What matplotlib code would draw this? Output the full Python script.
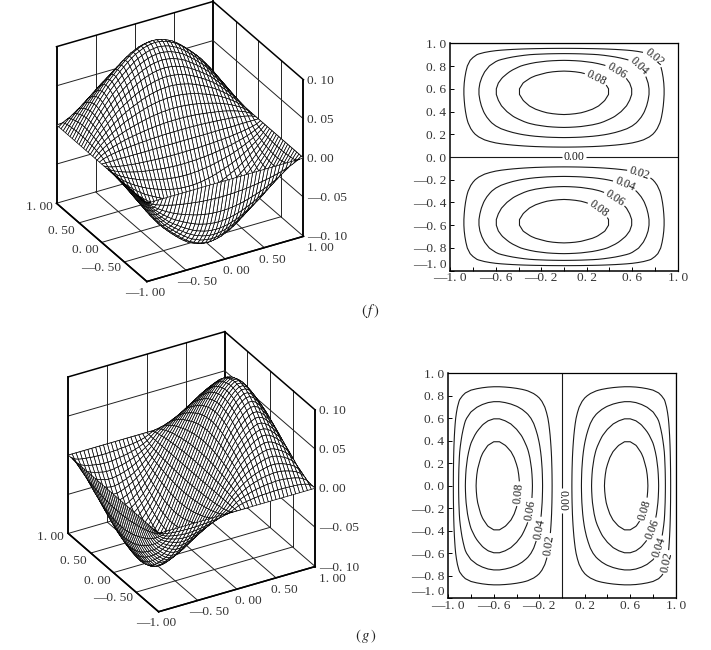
import matplotlib

matplotlib.use("Agg")

import matplotlib.pyplot as plt
import numpy as np
from mpl_toolkits.mplot3d import proj3d

plt.rcParams["font.family"] = ["Liberation Serif", "DejaVu Serif"]
plt.rcParams["mathtext.fontset"] = "stix"

FIG_W, FIG_H = 711, 650

# profiles, x = 0, 0.05, ... 1.00
even_half = [1.00, 0.995, 0.985, 0.97, 0.945, 0.92, 0.885, 0.845, 0.80, 0.755, 0.705,
             0.655, 0.60, 0.535, 0.47, 0.40, 0.325, 0.25, 0.17, 0.085, 0.00]
odd_half = [0.00, 0.115, 0.23, 0.35, 0.47, 0.58, 0.68, 0.765, 0.84, 0.905, 0.955,
            0.99, 0.99, 0.955, 0.89, 0.81, 0.72, 0.60, 0.44, 0.225, 0.00]
peak = 0.10
corner_fill = 0.3  # how square the contours get towards the corners

ticks_3d = [-1.0, -0.5, 0.0, 0.5, 1.0]
ticks_3d_labels = ["—1. 00", "—0. 50", "0. 00", "0. 50", "1. 00"]
ticks_z = [-0.10, -0.05, 0.00, 0.05, 0.10]
ticks_z_labels = ["—0. 10", "—0. 05", "0. 00", "0. 05", "0. 10"]

levels = [-0.08, -0.06, -0.04, -0.02, 0.02, 0.04, 0.06, 0.08]
x_ticks = [-1.0, -0.8, -0.6, -0.4, -0.2, 0.0, 0.2, 0.4, 0.6, 0.8, 1.0]
x_tick_labels = ["—1. 0", "", "—0. 6", "", "—0. 2", "", "0. 2", "", "0. 6", "", "1. 0"]
y_ticks = [-1.0, -0.8, -0.6, -0.4, -0.2, 0.0, 0.2, 0.4, 0.6, 0.8, 1.0]
y_tick_labels = ["—1. 0", "—0. 8", "—0. 6", "—0. 4", "—0. 2", "0. 0", "0. 2", "0. 4", "0. 6", "0. 8", "1. 0"]

# where the contour labels sit
labels_f = [(0.78, 0.86), (0.645, 0.786), (0.463, 0.76), (0.287, 0.70),
            (0.654, -0.164), (0.537, -0.237), (0.457, -0.349), (0.31, -0.45)]
zero_label_f = [(0.088, 0.0)]
labels_g = [(-0.387, -0.07), (-0.28, -0.217), (-0.19, -0.386), (-0.11, -0.53),
            (0.74, -0.217), (0.80, -0.39), (0.86, -0.55), (0.92, -0.68)]
zero_label_g = [(0.0, -0.13)]

grid = np.linspace(-1, 1, 41)
even = np.array(even_half[:0:-1] + even_half)
odd = np.array([-v for v in odd_half[:0:-1]] + odd_half)


def blend(row, col):
    # product-like mix of the two profiles, keeps both profiles along the ridges
    with np.errstate(divide="ignore"):
        a = np.abs(row) ** -corner_fill
        b = np.abs(col) ** -corner_fill
    mixed = np.add.outer(a, b) - 1
    return peak * np.sign(np.outer(row, col)) * mixed ** (-1 / corner_fill)


z_f = blend(odd, even)
z_g = blend(even, odd)
sign_f = np.outer(odd, np.ones_like(even))
sign_g = np.outer(np.ones_like(even), odd)

fig = plt.figure(figsize=(FIG_W / 100, FIG_H / 100), dpi=100)


def add_surface(z, cx, cy):
    side = 304
    frac = 0.095 / 0.185
    left = cx - frac * side
    bottom = FIG_H - cy - frac * side
    ax = fig.add_axes([left / FIG_W, bottom / FIG_H, side / FIG_W, side / FIG_H],
                      projection="3d", computed_zorder=False)
    ax.set_proj_type("ortho")
    ax.view_init(elev=30, azim=-120)
    ax.set_box_aspect((1, 1, 1))
    ax.set_xlim(-1, 1)
    ax.set_ylim(-1, 1)
    ax.set_zlim(-0.1, 0.1)
    ax.set_axis_off()
    ax.patch.set_alpha(0)

    wall = dict(color="#222222", lw=0.7, zorder=1)
    edge = dict(color="black", lw=1.1, zorder=1)
    for t in ticks_3d:
        ax.plot([t, t], [1, 1], [-0.1, 0.1], **(edge if abs(t) == 1 else wall))
        ax.plot([1, 1], [t, t], [-0.1, 0.1], **(edge if abs(t) == 1 else wall))
        ax.plot([t, t], [-1, 1], [-0.1, -0.1], **(edge if t == -1 else wall))
        ax.plot([-1, 1], [t, t], [-0.1, -0.1], **(edge if t == -1 else wall))
    for v in ticks_z[1:4]:
        ax.plot([-1, 1], [1, 1], [v, v], **wall)
        ax.plot([1, 1], [-1, 1], [v, v], **wall)
    ax.plot([-1, 1], [1, 1], [0.1, 0.1], **edge)
    ax.plot([1, 1], [-1, 1], [0.1, 0.1], **edge)
    ax.plot([-1, -1], [-1, 1], [-0.1, -0.1], **edge)
    ax.plot([-1, 1], [-1, -1], [-0.1, -0.1], **edge)
    ax.plot([1, 1], [-1, -1], [-0.1, 0.1], **edge)
    ax.plot([-1, -1], [1, 1], [-0.1, 0.1], **edge)

    xx, yy = np.meshgrid(grid, grid)
    ax.plot_surface(xx, yy, z, rstride=1, cstride=1, color="white", edgecolor="black",
                    linewidth=0.5, shade=False, zorder=2)

    proj = ax.get_proj()

    def put(x, y, zv, text, dx, dy, ha):
        px, py, _ = proj3d.proj_transform(x, y, zv, proj)
        ax.annotate(text, (px, py), xytext=(dx, dy), textcoords="offset pixels",
                    ha=ha, va="center", fontsize=9.6, color="#333333", annotation_clip=False)

    y_offsets = [(18, -11, "right"), (-3, -6, "right"), (-3, -8, "right"), (-4, -8, "right"), (-4, -4, "right")]
    for t, s, (dx, dy, ha) in zip(ticks_3d, ticks_3d_labels, y_offsets):
        put(-1, t, -0.1, s, dx, dy, ha)
    x_offsets = [None, (11, -12, "center"), (11, -12, "center"), (8, -12, "center"), (17, -12, "center")]
    for t, s, off in zip(ticks_3d, ticks_3d_labels, x_offsets):
        if off:
            put(t, -1, -0.1, s, off[0], off[1], off[2])
    for v, s in zip(ticks_z, ticks_z_labels):
        put(1, -1, v, s, 4, -1, "left")
    return ax


def add_contour(z, sign, left, right, top, bottom, manual, zero_manual):
    ax = fig.add_axes([left / FIG_W, (FIG_H - bottom) / FIG_H, (right - left) / FIG_W, (bottom - top) / FIG_H])
    cs = ax.contour(grid, grid, z, levels=levels, colors="#1a1a1a", linewidths=0.8,
                    negative_linestyles="solid")
    ax.clabel(cs, fmt=lambda v: f"{abs(v):.2f}", manual=manual, fontsize=8.5, inline=True, inline_spacing=2)
    zero = ax.contour(grid, grid, sign, levels=[0.0], colors="#1a1a1a", linewidths=0.8)
    ax.clabel(zero, fmt=lambda v: f"{abs(v):.2f}", manual=zero_manual, fontsize=8.5, inline=True, inline_spacing=2)
    ax.set_xlim(-1, 1)
    ax.set_ylim(-1, 1)
    ax.set_xticks(x_ticks, x_tick_labels)
    ax.set_yticks(y_ticks, y_tick_labels)
    ax.tick_params(axis="both", direction="in", length=3, width=0.7, labelsize=9.6, labelcolor="#333333")
    ax.tick_params(axis="x", pad=1)
    ax.tick_params(axis="y", pad=3)
    ax.get_yticklabels()[0].set_verticalalignment("bottom")
    for side in ["left", "bottom"]:
        ax.spines[side].set_linewidth(1.1)
    for side in ["top", "right"]:
        ax.spines[side].set_linewidth(0.9)
    return ax


add_surface(z_f, 180, 141.5)
add_surface(z_g, 191.7, 471.7)
add_contour(z_f, sign_f, 450.3, 677.7, 43.3, 270.7, labels_f, zero_label_f)
add_contour(z_g, sign_g, 448.3, 675.7, 373.3, 598.3, labels_g, zero_label_g)

fig.text(370 / FIG_W, 1 - 311 / FIG_H, r"$(\,f\,)$", ha="center", va="center", fontsize=10.5, color="#222222")
fig.text(366 / FIG_W, 1 - 636 / FIG_H, r"$(\,g\,)$", ha="center", va="center", fontsize=10.5, color="#222222")

fig.savefig("out.png", dpi=100)
